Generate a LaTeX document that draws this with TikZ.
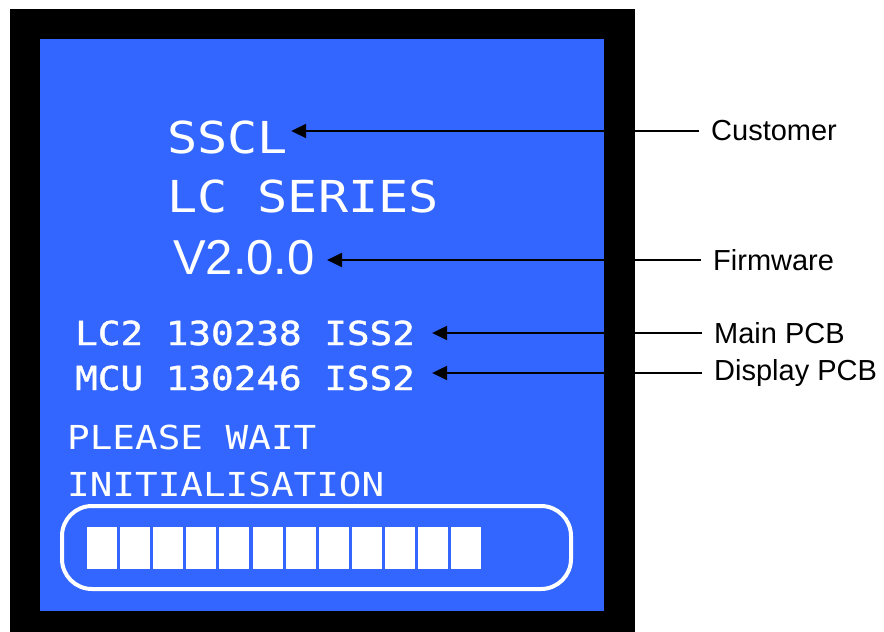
\documentclass[tikz,border=0pt]{standalone}
\usepackage{fontspec}
\setmainfont{Liberation Sans}
\newfontfamily\lcdfont[FakeStretch=1.14]{DejaVu Sans Mono}
\newfontfamily\lcdmedium[FakeStretch=1.14,FakeBold=1.3]{DejaVu Sans Mono}
\usetikzlibrary{arrows.meta,positioning}
\definecolor{screenblue}{RGB}{51,102,255}
\tikzset{
    % Define standard node styles
    bigtext/.style={
        anchor=base west, inner sep=0, text=white,
        font=\lcdfont\fontsize{44}{52}\selectfont
    },
    versiontext/.style={
        anchor=base west, inner sep=0, text=white,
        font=\fontsize{49}{58}\selectfont
    },
    pcbtext/.style={
        anchor=base west, inner sep=0, text=white,
        font=\lcdmedium\fontsize{33}{40}\selectfont
    },
    statustext/.style={
        anchor=base west, inner sep=0, text=white,
        font=\lcdfont\fontsize{33}{40}\selectfont
    },
    callout/.style={
        anchor=west, inner xsep=12pt, inner ysep=0,
        font=\fontsize{29}{34}\selectfont
    },
    pointer/.style={
        -{Triangle[length=15pt,width=14pt]}, line width=2pt, color=black
    },
    barblock/.style={
        fill=white, draw=none
    }
}
\begin{document}
\begin{tikzpicture}[x=1pt,y=-1pt]
\useasboundingbox (0,0) rectangle (884,632);

% Display frame
\fill[black] (10,9) rectangle (635,632);
\fill[screenblue] (40,39) rectangle (604,611);

% Screen texts
\node[bigtext] (sscl) at (167,153) {SSCL};
\node[bigtext] (series) at (167,212) {LC SERIES};
\node[versiontext] (version) at (173,274) {V2.0.0};
\node[pcbtext] (mainpcb) at (75,345) {LC2 130238 ISS2};
\node[pcbtext] (mcu) at (75,390) {MCU 130246 ISS2};
\node[statustext] (wait) at (67,449) {PLEASE WAIT};
\node[statustext] (init) at (67,496) {INITIALISATION};

% Progress bar
\draw[white, line width=4pt, rounded corners=30pt] (62,506) rectangle (571,589);
\foreach \i in {0,...,11}
    \fill[barblock] ({87+33.1*\i},527) rectangle ({117+33.1*\i},569);

% Callouts
\node[callout] (customer) at (699,131) {Customer};
\node[callout] (firmware) at (701,260) {Firmware};
\node[callout] (mainlbl) at (702,333) {Main PCB};
\node[callout] (displbl) at (702,373) {Display PCB};

\draw[pointer, shorten >=3pt] (customer.west) -- (customer.west -| sscl.east);
\draw[pointer, shorten >=12pt] (firmware.west) -- (firmware.west -| version.east);
\draw[pointer, shorten >=17pt] (mainlbl.west) -- (mainlbl.west -| mainpcb.east);
\draw[pointer, shorten >=17pt] (displbl.west) -- (displbl.west -| mcu.east);

\end{tikzpicture}
\end{document}
